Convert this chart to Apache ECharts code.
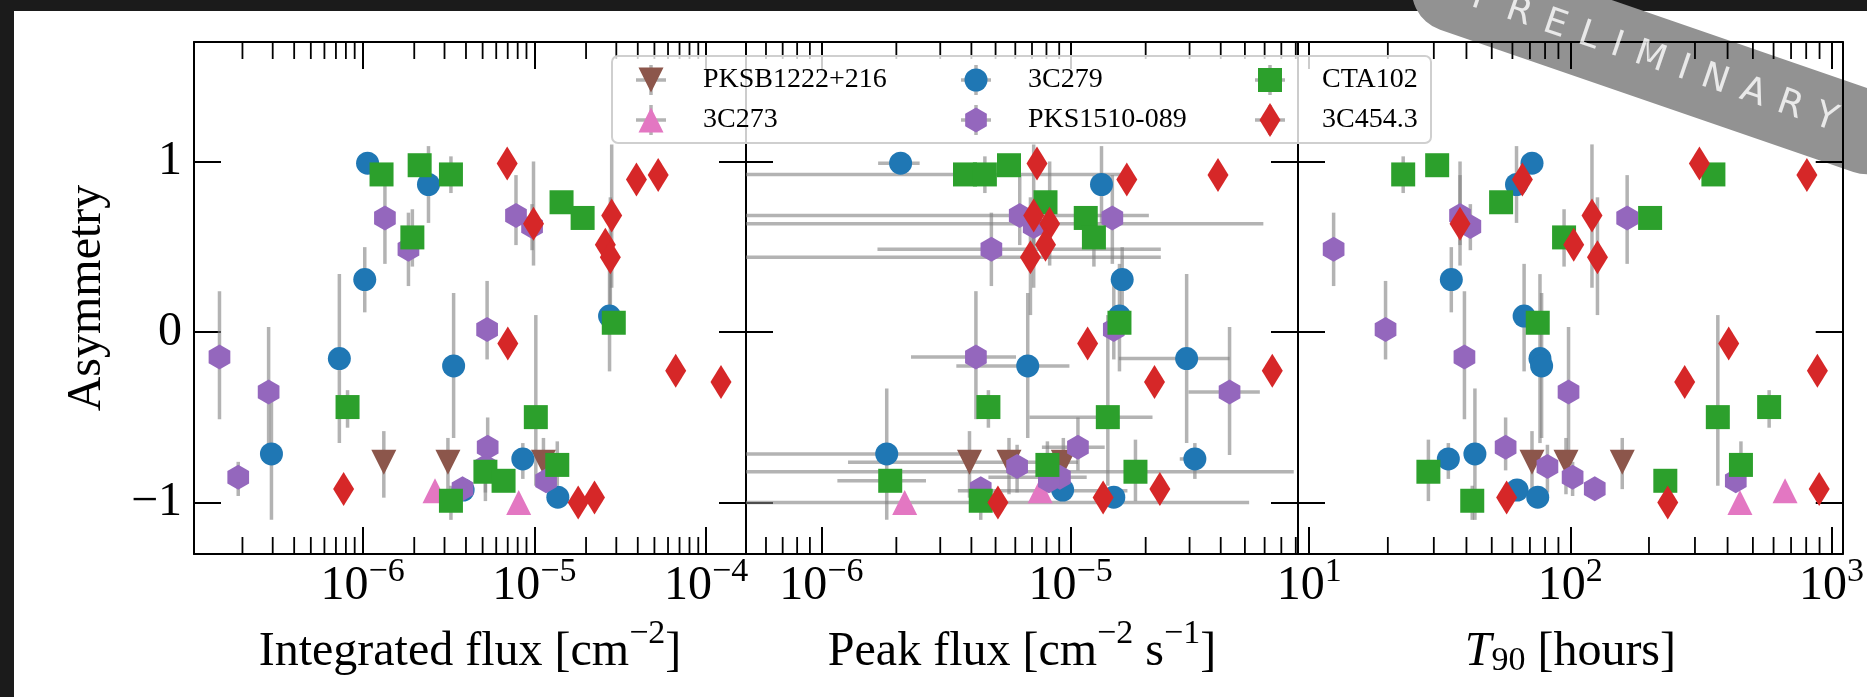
<!DOCTYPE html>
<html>
<head>
<meta charset="utf-8">
<script src="https://cdn.jsdelivr.net/npm/echarts@6/dist/echarts.min.js"></script>
<style>
html,body{margin:0;padding:0;width:1867px;height:697px;overflow:hidden;background:#1b1b1b;}
#card{position:absolute;left:14px;top:11px;right:0;bottom:0;background:#ffffff;}
#chart{position:absolute;left:0;top:0;width:1867px;height:697px;}
</style>
</head>
<body>
<div id="card"></div>
<div id="chart"></div>
<script>
// ---------------- DATA ----------------
// PKSB1222+216
const pksb_asym     = [-0.763, -0.763, -0.763];
const pksb_asymLo   = [-0.97, -0.95, -0.92];
const pksb_asymHi   = [-0.58, -0.62, -0.62];
const pksb_intFlux  = [1.33e-6, 3.14e-6, 1.13e-5];
const pksb_peakFlux = [3.93e-6, 5.66e-6, 9.35e-6];
const pksb_peakLo   = [1.28e-6, null, null];
const pksb_peakHi   = [1.07e-5, null, null];
const pksb_t90      = [71.3, 96.2, 158];

// 3C273
const c273_asym     = [-0.929, -0.998];
const c273_asymLo   = [null, null];
const c273_asymHi   = [null, null];
const c273_intFlux  = [2.64e-6, 8.11e-6];
const c273_peakFlux = [7.55e-6, 2.16e-6];
const c273_peakLo   = [3.53e-6, null];
const c273_peakHi   = [1.69e-5, null];
const c273_t90      = [664, 446];

// 3C279
const c279_asym     = [0.99, 0.865, 0.308, 0.094, -0.155, -0.198, -0.714, -0.743, -0.925, -0.967];
const c279_asymLo   = [null, 0.64, 0.116, -0.23, -0.65, -0.62, -1.10, -0.86, null, null];
const c279_asymHi   = [null, 1.09, 0.498, 0.40, 0.34, 0.23, -0.33, -0.65, null, null];
const c279_intFlux  = [1.07e-6, 2.42e-6, 1.03e-6, 2.74e-5, 7.33e-7, 3.39e-6, 2.95e-7, 8.57e-6, 3.85e-6, 1.37e-5];
const c279_peakFlux = [2.08e-6, 1.33e-5, 1.61e-5, 1.57e-5, 2.92e-5, 6.73e-6, 1.83e-6, 3.15e-5, 9.29e-6, 1.49e-5];
const c279_peakLo   = [1.69e-6, null, null, null, 1.56e-5, 3.48e-6, 1e-7, 2.74e-5, null, null];
const c279_peakHi   = [2.48e-6, null, null, null, 4.34e-5, 9.89e-6, 3.98e-6, 3.49e-5, null, null];
const c279_t90      = [71.3, 62.2, 35.0, 66.5, 76.5, 77.6, 43.1, 34.1, 62.5, 75.0];

// PKS1510-089
const pks1510_asym     = [0.684, 0.669, 0.619, 0.485, 0.016, -0.145, -0.351, -0.675, -0.788, -0.851, -0.871, -0.918];
const pks1510_asymLo   = [0.51, 0.40, 0.48, 0.27, -0.16, -0.51, -0.72, -0.81, -0.94, -0.96, null, null];
const pks1510_asymHi   = [0.92, 0.92, 0.75, 0.70, 0.30, 0.24, 0.03, -0.50, -0.66, -0.76, null, null];
const pks1510_intFlux  = [7.82e-6, 1.35e-6, 9.70e-6, 1.85e-6, 5.31e-6, 1.47e-7, 2.84e-7, 5.35e-6, 5.19e-6, 1.89e-7, 1.17e-5, 3.82e-6];
const pks1510_peakFlux = [6.25e-6, 1.47e-5, 7.11e-6, 4.81e-6, 1.49e-5, 4.17e-6, 4.34e-5, 1.07e-5, 6.10e-6, 9.06e-6, 8.18e-6, 4.36e-6];
const pks1510_peakLo   = [null, null, null, 1.68e-6, null, 2.29e-6, 2.97e-5, 7.67e-6, null, 4.68e-6, null, null];
const pks1510_peakHi   = [null, null, null, 2.30e-5, null, 6.04e-6, 5.74e-5, 1.37e-5, null, 1.16e-5, null, null];
const pks1510_t90      = [37.8, 165, 41.4, 12.4, 19.6, 39.3, 98.4, 56.5, 81.7, 102, 430, 124];

// CTA102
const cta102_asym     = [0.924, 0.978, 0.924, 0.761, 0.669, 0.555, 0.055, -0.439, -0.498, -0.778, -0.818, -0.871, -0.988];
const cta102_asymLo   = [null, null, 0.815, null, null, 0.384, null, -0.56, -0.90, -0.90, -0.99, null, -1.10];
const cta102_asymHi   = [null, null, 1.03, null, null, 0.72, null, -0.34, 0.10, -0.64, -0.63, null, -0.90];
const cta102_intFlux  = [1.29e-6, 2.15e-6, 3.27e-6, 1.44e-5, 1.91e-5, 1.95e-6, 2.90e-5, 8.18e-7, 1.02e-5, 1.36e-5, 5.19e-6, 6.62e-6, 3.27e-6];
const cta102_peakFlux = [3.77e-6, 5.66e-6, 4.53e-6, 7.93e-6, 1.15e-5, 1.24e-5, 1.57e-5, 4.68e-6, 1.41e-5, 8.07e-6, 1.82e-5, 1.89e-6, 4.36e-6];
const cta102_peakLo   = [1e-7, null, null, null, null, null, null, null, 6.84e-6, null, 1e-7, 1.16e-6, null];
const cta102_peakHi   = [1.58e-5, null, null, null, null, null, null, null, 2.13e-5, null, 7.85e-5, 2.63e-6, null];
const cta102_t90      = [353, 30.9, 22.9, 54.3, 202, 94.6, 75.0, 577, 367, 450, 28.6, 231, 42.1];

// 3C454.3
const c454_asym     = [0.988, 0.92, 0.894, 0.684, 0.635, 0.512, 0.439, -0.067, -0.227, -0.292, -0.919, -0.969, -0.998];
const c454_asymLo   = [null, null, null, 0.26, 0.39, null, 0.10, null, null, null, null, null, null];
const c454_asymHi   = [null, null, null, 1.10, 1.00, null, 0.79, null, null, null, null, null, null];
const c454_intFlux  = [6.95e-6, 5.26e-5, 3.93e-5, 2.82e-5, 9.89e-6, 2.59e-5, 2.77e-5, 7.01e-6, 6.65e-5, 1.22e-4, 7.76e-7, 2.24e-5, 1.80e-5];
const c454_peakFlux = [7.33e-6, 3.90e-5, 1.68e-5, 7.11e-6, 8.24e-6, 7.93e-6, 6.90e-6, 1.17e-5, 6.44e-5, 2.17e-5, 2.28e-5, 1.35e-5, 5.11e-6];
const c454_peakLo   = [null, null, null, 1e-7, 1e-7, null, 1e-7, null, null, null, null, null, 1e-7];
const c454_peakHi   = [null, null, null, 2.06e-5, 5.93e-5, null, 2.30e-5, null, null, null, null, null, 5.20e-5];
const c454_t90      = [312, 805, 65.5, 121, 37.8, 103, 127, 404, 883, 274, 897, 57.0, 236];

// axis tick values (log10 of the decade ticks) and labels
const intFluxMajors  = [-6, -5, -4];
const peakFluxMajors = [-6, -5];
const t90Majors      = [1, 2, 3];
const asymTicks      = [-1, 0, 1];
const xTitles = ['Integrated flux [cm{sup|\u22122}]', 'Peak flux [cm{sup|\u22122} s{sup|\u22121}]', '{it|T}{sub|90} [hours]'];
const yTitle = 'Asymmetry';
const bannerText = 'PRELIMINARY';

// ---------------- STYLE ----------------
const SERIF = 'Liberation Serif';
const MINUS = '\u2212';
const ERR_COLOR = 'rgba(128,128,128,0.6)';
const ERR_W = 3.5;
const GRID_TOP = 42, GRID_H = 512, GRID_W = 552;
const Y_MIN = -1.3, Y_MAX = 1.7;
const W = 1867, H = 697;

const SYM = {
  triDown: 'path://M-10,-10L10,-10L0,10Z',
  hex: 'path://M0,-10L8.66,-5L8.66,5L0,10L-8.66,5L-8.66,-5Z'
};
// legend icons: padded to the full 94x40 legend icon box so they keep their true size, centred
const PAD = 'path://M-47,-20M47,20';
const ICON = {
  triDown: PAD + 'M-12.5,-12.5L12.5,-12.5L0,12.5Z',
  triUp: PAD + 'M0,-12.5L12.5,12.5L-12.5,12.5Z',
  circle: PAD + 'M-11.5,0A11.5,11.5,0,1,0,11.5,0A11.5,11.5,0,1,0,-11.5,0Z',
  hex: PAD + 'M0,-12.5L10.83,-6.25L10.83,6.25L0,12.5L-10.83,6.25L-10.83,-6.25Z',
  square: PAD + 'M-12,-12L12,-12L12,12L-12,12Z',
  diamond: PAD + 'M0,-17L10.5,0L0,17L-10.5,0Z'
};

const sources = [
  {name:'PKSB1222+216', color:'#8c564b', symbol:SYM.triDown, size:[25,25], icon:ICON.triDown,
   asym:pksb_asym, asymLo:pksb_asymLo, asymHi:pksb_asymHi, intFlux:pksb_intFlux, peakFlux:pksb_peakFlux, peakLo:pksb_peakLo, peakHi:pksb_peakHi, t90:pksb_t90},
  {name:'3C273', color:'#e377c2', symbol:'triangle', size:[25,25], icon:ICON.triUp,
   asym:c273_asym, asymLo:c273_asymLo, asymHi:c273_asymHi, intFlux:c273_intFlux, peakFlux:c273_peakFlux, peakLo:c273_peakLo, peakHi:c273_peakHi, t90:c273_t90},
  {name:'3C279', color:'#1f77b4', symbol:'circle', size:[23,23], icon:ICON.circle,
   asym:c279_asym, asymLo:c279_asymLo, asymHi:c279_asymHi, intFlux:c279_intFlux, peakFlux:c279_peakFlux, peakLo:c279_peakLo, peakHi:c279_peakHi, t90:c279_t90},
  {name:'PKS1510-089', color:'#9467bd', symbol:SYM.hex, size:[21.7,25], icon:ICON.hex,
   asym:pks1510_asym, asymLo:pks1510_asymLo, asymHi:pks1510_asymHi, intFlux:pks1510_intFlux, peakFlux:pks1510_peakFlux, peakLo:pks1510_peakLo, peakHi:pks1510_peakHi, t90:pks1510_t90},
  {name:'CTA102', color:'#2ca02c', symbol:'rect', size:[24,24], icon:ICON.square,
   asym:cta102_asym, asymLo:cta102_asymLo, asymHi:cta102_asymHi, intFlux:cta102_intFlux, peakFlux:cta102_peakFlux, peakLo:cta102_peakLo, peakHi:cta102_peakHi, t90:cta102_t90},
  {name:'3C454.3', color:'#d62728', symbol:'diamond', size:[21,34], icon:ICON.diamond,
   asym:c454_asym, asymLo:c454_asymLo, asymHi:c454_asymHi, intFlux:c454_intFlux, peakFlux:c454_peakFlux, peakLo:c454_peakLo, peakHi:c454_peakHi, t90:c454_t90}
];

const panels = [
  {field:'intFlux',  lo:null,     hi:null,     min:-6.981, max:-3.768, majors:intFluxMajors,  left:194,  title:xTitles[0]},
  {field:'peakFlux', lo:'peakLo', hi:'peakHi', min:-6.302, max:-4.088, majors:peakFluxMajors, left:746,  title:xTitles[1]},
  {field:'t90',      lo:null,     hi:null,     min:0.957,  max:3.043,  majors:t90Majors,      left:1298, title:xTitles[2]}
];

function minorTicks(min, max) {
  const out = [];
  for (let d = Math.floor(min); d <= Math.ceil(max); d++) {
    for (let k = 2; k <= 9; k++) {
      const v = d + Math.log10(k);
      if (v > min + 0.003 && v < max - 0.003) out.push(v);
    }
  }
  return out;
}

const lineStyle = {color:'#000', width:2};
const tickLabelRich = {
  b: {fontSize:48, fontFamily:SERIF, color:'#000', lineHeight:48},
  s: {fontSize:34, fontFamily:SERIF, color:'#000', verticalAlign:'top', height:20}
};
const titleRich = {
  sup: {fontSize:34, fontFamily:SERIF, color:'#000', verticalAlign:'top', height:12},
  sub: {fontSize:34, fontFamily:SERIF, color:'#000', verticalAlign:'bottom', height:30},
  it:  {fontSize:48, fontFamily:SERIF, color:'#000', fontStyle:'italic', lineHeight:48}
};

const grid = [], xAxis = [], yAxis = [], series = [];

panels.forEach((p, i) => {
  grid.push({left:p.left, top:GRID_TOP, width:GRID_W, height:GRID_H});
  const common = {type:'value', gridIndex:i, min:p.min, max:p.max, splitLine:{show:false},
    axisLine:{show:true, onZero:false, lineStyle},
    axisTick:{show:true, inside:true, length:27, lineStyle, customValues:p.majors}};
  xAxis.push(Object.assign({}, common, {
    position:'bottom',
    axisLabel:{show:true, customValues:p.majors, margin:8, fontSize:48, fontFamily:SERIF, color:'#000', lineHeight:48,
      formatter: v => '{b|10}{s|' + (v < 0 ? MINUS : '') + Math.abs(Math.round(v)) + '}', rich:tickLabelRich},
    name:p.title, nameLocation:'middle', nameGap:74,
    nameTextStyle:{fontSize:48, fontFamily:SERIF, color:'#000', lineHeight:48, rich:titleRich}
  }));
  xAxis.push(Object.assign({}, common, {position:'top', axisLabel:{show:false}}));
  const ycommon = {type:'value', gridIndex:i, min:Y_MIN, max:Y_MAX, splitLine:{show:false},
    axisLine:{show:true, onZero:false, lineStyle},
    axisTick:{show:true, inside:true, length:27, lineStyle, customValues:asymTicks}};
  yAxis.push(Object.assign({}, ycommon, {
    position:'left',
    axisLabel:{show:i === 0, customValues:asymTicks, margin:12, fontSize:48, fontFamily:SERIF, color:'#000',
      formatter: v => (v < 0 ? MINUS + Math.abs(v) : String(v))},
    name: i === 0 ? yTitle : '', nameLocation:'middle', nameGap:83,
    nameTextStyle:{fontSize:48, fontFamily:SERIF, color:'#000', lineHeight:48}
  }));
  yAxis.push(Object.assign({}, ycommon, {position:'right', axisLabel:{show:false}}));

  // error bars
  const eb = [];
  sources.forEach(s => s.asym.forEach((a, k) => {
    const x = Math.log10(s[p.field][k]);
    const ylo = s.asymLo[k] != null ? s.asymLo[k] : a;
    const yhi = s.asymHi[k] != null ? s.asymHi[k] : a;
    let xlo = x, xhi = x;
    if (p.lo && s[p.lo][k] != null) { xlo = Math.log10(s[p.lo][k]); xhi = Math.log10(s[p.hi][k]); }
    eb.push([x, a, ylo, yhi, xlo, xhi]);
  }));
  series.push({
    type:'custom', xAxisIndex:2*i, yAxisIndex:2*i, clip:true, silent:true, z:1, data:eb, encode:{x:0, y:1},
    renderItem(params, api) {
      const x = api.value(0), y = api.value(1), ylo = api.value(2), yhi = api.value(3), xlo = api.value(4), xhi = api.value(5);
      const ch = [];
      const st = {stroke:ERR_COLOR, lineWidth:ERR_W};
      if (yhi - ylo > 1e-9) {
        const a = api.coord([x, ylo]), b = api.coord([x, yhi]);
        ch.push({type:'line', shape:{x1:a[0], y1:a[1], x2:b[0], y2:b[1]}, style:st});
      }
      if (xhi - xlo > 1e-9) {
        const a = api.coord([xlo, y]), b = api.coord([xhi, y]);
        ch.push({type:'line', shape:{x1:a[0], y1:a[1], x2:b[0], y2:b[1]}, style:st});
      }
      return {type:'group', children:ch};
    }
  });

  // minor log ticks (bottom and top)
  series.push({
    type:'custom', xAxisIndex:2*i, yAxisIndex:2*i, clip:false, silent:true, z:3,
    data: minorTicks(p.min, p.max).map(v => [v, Y_MIN]), encode:{x:0, y:1},
    renderItem(params, api) {
      const v = api.value(0);
      const b = api.coord([v, Y_MIN]), t = api.coord([v, Y_MAX]);
      const st = {stroke:'#000', lineWidth:1.8};
      return {type:'group', children:[
        {type:'line', shape:{x1:b[0], y1:b[1], x2:b[0], y2:b[1] - 17}, style:st},
        {type:'line', shape:{x1:t[0], y1:t[1], x2:t[0], y2:t[1] + 17}, style:st}
      ]};
    }
  });

  sources.forEach(s => series.push({
    type:'scatter', name:s.name, xAxisIndex:2*i, yAxisIndex:2*i, z:2, silent:true,
    symbol:s.symbol, symbolSize:s.size, itemStyle:{color:s.color, opacity:1},
    emphasis:{disabled:true},
    data: s.asym.map((a, k) => [Math.log10(s[p.field][k]), a])
  }));
});

// ---------------- LEGEND ----------------
const legendCols = [
  {left:604,  names:['PKSB1222+216', '3C273']},
  {left:929,  names:['3C279', 'PKS1510-089']},
  {left:1223, names:['CTA102', '3C454.3']}
];
const legend = legendCols.map(c => ({
  orient:'vertical', left:c.left, top:60, itemWidth:94, itemHeight:40, itemGap:0, padding:0,
  selectedMode:false, z:20,
  textStyle:{fontFamily:SERIF, fontSize:28, color:'#000'},
  data: c.names.map(n => ({name:n, icon: sources.find(s => s.name === n).icon}))
}));

const graphicEls = [];
graphicEls.push({type:'rect', z:15, silent:true,
  shape:{x:612, y:56, width:819, height:87, r:6},
  style:{fill:'rgba(255,255,255,0.8)', stroke:'#cfcfcf', lineWidth:2}});
legendCols.forEach(c => [80, 120].forEach(cy => {
  const cx = c.left + 47;
  graphicEls.push({type:'line', z:16, silent:true, shape:{x1:cx-15, y1:cy, x2:cx+15, y2:cy}, style:{stroke:ERR_COLOR, lineWidth:ERR_W}});
  graphicEls.push({type:'line', z:16, silent:true, shape:{x1:cx, y1:cy-15, x2:cx, y2:cy+15}, style:{stroke:ERR_COLOR, lineWidth:ERR_W}});
}));

// ---------------- PRELIMINARY BANNER ----------------
const BANNER = {cx:1660.4, cy:61.2, angle:19, len:521, thick:84, eToA:209.3, eShift:-111.5, fontSize:36, family:'DejaVu Sans'};
const rad = BANNER.angle * Math.PI / 180;
graphicEls.push({type:'group', x:BANNER.cx, y:BANNER.cy, rotation:-rad, z:50, silent:true, children:[
  {type:'rect', shape:{x:-BANNER.len / 2, y:-BANNER.thick / 2, width:BANNER.len, height:BANNER.thick, r:BANNER.thick / 2}, style:{fill:'#929292'}}
]});
const mctx = document.createElement('canvas').getContext('2d');
mctx.font = BANNER.fontSize + 'px "' + BANNER.family + '"';
const letters = bannerText.split('');
const widths = letters.map(ch => mctx.measureText(ch).width);
let inner = widths[2] / 2 + widths[8] / 2;
for (let k = 3; k < 8; k++) inner += widths[k];
const gap = (BANNER.eToA - inner) / 6;
const centers = [];
let cur = 0;
letters.forEach((ch, k) => { centers.push(cur + widths[k] / 2); cur += widths[k] + gap; });
const bannerPts = letters.map((ch, k) => {
  const s = centers[k] - centers[2] + BANNER.eShift;
  return {value:[BANNER.cx + s * Math.cos(rad), BANNER.cy + s * Math.sin(rad)], name:ch};
});
// full-canvas helper grid for the banner lettering
grid.push({left:0, top:0, width:W, height:H});
xAxis.push({type:'value', gridIndex:3, min:0, max:W, show:false});
yAxis.push({type:'value', gridIndex:3, min:0, max:H, inverse:true, show:false});
series.push({
  type:'scatter', xAxisIndex:6, yAxisIndex:6, z:60, silent:true, clip:false,
  symbolSize:1, itemStyle:{color:'rgba(0,0,0,0)'},
  emphasis:{disabled:true},
  label:{show:true, position:'inside', rotate:-BANNER.angle, formatter:p => p.name,
    fontSize:BANNER.fontSize, fontFamily:BANNER.family, color:'#ffffff', align:'center', verticalAlign:'middle'},
  labelLayout:{hideOverlap:false},
  data: bannerPts
});

const chart = echarts.init(document.getElementById('chart'), null, {renderer:'canvas', width:W, height:H});
chart.setOption({
  backgroundColor:'transparent',
  animation:false,
  textStyle:{fontFamily:SERIF},
  grid, xAxis, yAxis, series, legend,
  graphic:{elements:graphicEls}
});
</script>
</body>
</html>
